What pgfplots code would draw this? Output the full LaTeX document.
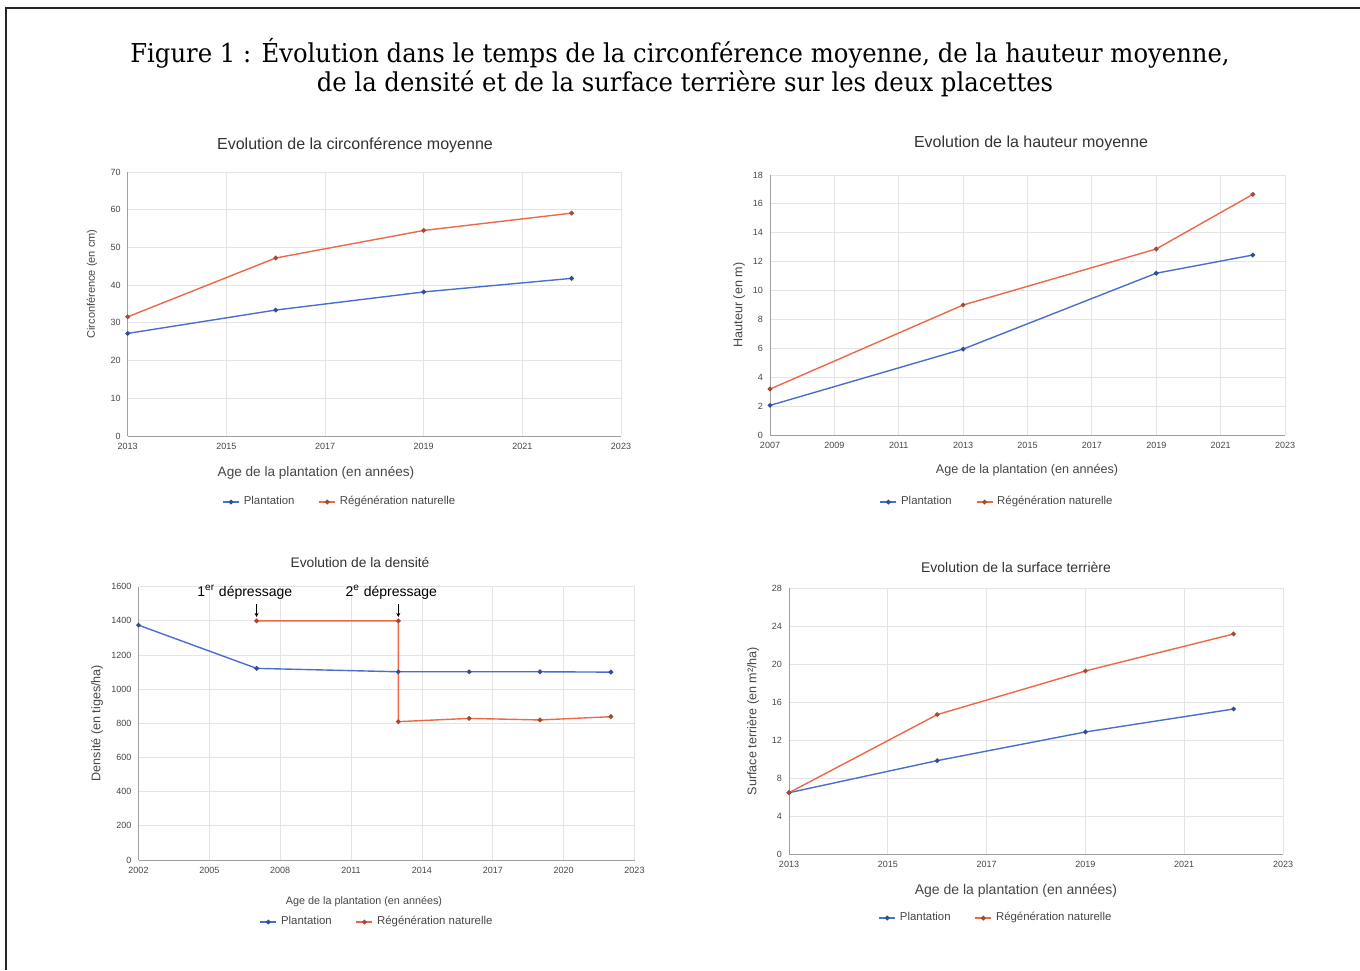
\documentclass[border=0pt]{standalone}
\usepackage{fontspec}
\setmainfont{Liberation Sans}
\newfontfamily\titlefont{DejaVu Serif}[FakeStretch=0.935]
\usepackage{pgfplots}
\pgfplotsset{compat=1.18}
\usetikzlibrary{arrows.meta}

\definecolor{plantblue}{RGB}{74,110,205}
\definecolor{regenred}{RGB}{236,104,72}
\definecolor{gridgray}{RGB}{228,228,228}
\definecolor{axisgray}{RGB}{160,160,160}
\definecolor{labelgray}{RGB}{70,70,70}

\pgfplotsset{
  sheet/.style={
    scale only axis,
    anchor=south west,
    axis lines*=left,
    axis line style={axisgray, line width=0.5pt},
    grid=major,
    major grid style={gridgray, line width=0.4pt},
    major tick length=0pt,
    tick label style={font=\fontsize{4.5}{5}\selectfont, text=labelgray},
    /pgf/number format/assume math mode=true,
    /pgf/number format/1000 sep={},
    ymin=0,
    clip=false,
    legend columns=2,
    legend style={draw=none, fill=none, anchor=center,
      font=\fontsize{5.7}{6.5}\selectfont, text=labelgray,
      /tikz/every even column/.append style={column sep=10pt}},
    legend image code/.code={
      \draw[mark repeat=2, mark phase=2, #1] plot coordinates {(0pt,0pt) (4pt,0pt) (8pt,0pt)};},
  },
  plant/.style={plantblue, line width=0.7pt, mark=*, mark size=0.8pt,
    mark options={fill=plantblue!70!black, draw=plantblue!70!black}},
  regen/.style={regenred, line width=0.7pt, mark=*, mark size=0.8pt,
    mark options={fill=regenred!70!black, draw=regenred!70!black}},
}

\begin{document}
\begin{tikzpicture}
\useasboundingbox (0,0) rectangle (680pt,-485pt);

% cadre
\draw[line width=1pt, black!85] (3pt,-485pt) -- (3pt,-4pt) -- (680pt,-4pt);

% titre general
\node[font=\titlefont\fontsize{13}{15}\selectfont] at (340pt,-26.5pt)
  {Figure 1 : Évolution dans le temps de la circonférence moyenne, de la hauteur moyenne,};
\node[font=\titlefont\fontsize{13}{15}\selectfont] at (342.5pt,-42pt)
  {de la densité et de la surface terrière sur les deux placettes};

% --- circonference
\begin{axis}[sheet, at={(63.85pt,-218pt)}, width=246.65pt, height=132pt,
  xmin=2013, xmax=2023, ymax=70,
  xtick={2013,2015,...,2023}, ytick={0,10,...,70},
  legend style={at={(0.432,-0.25)}}]
\addplot[plant] coordinates {(2013,27.2) (2016,33.4) (2019,38.2) (2022,41.8)};
\addplot[regen] coordinates {(2013,31.6) (2016,47.2) (2019,54.5) (2022,59.1)};
\legend{Plantation, Régénération naturelle}
\end{axis}

% --- hauteur
\begin{axis}[sheet, at={(385pt,-217.5pt)}, width=257.5pt, height=130pt,
  xmin=2007, xmax=2023, ymax=18,
  xtick={2007,2009,...,2023}, ytick={0,2,...,18},
  legend style={at={(0.443,-0.258)}}]
\addplot[plant] coordinates {(2007,2.05) (2013,5.95) (2019,11.2) (2022,12.46)};
\addplot[regen] coordinates {(2007,3.18) (2013,9.0) (2019,12.88) (2022,16.66)};
\legend{Plantation, Régénération naturelle}
\end{axis}

% --- densite
\begin{axis}[sheet, at={(69.25pt,-430pt)}, width=248pt, height=136.65pt,
  xmin=2002, xmax=2023, ymax=1600,
  xtick={2002,2005,...,2023}, ytick={0,200,...,1600},
  legend style={at={(0.483,-0.227)}}]
\addplot[plant] coordinates {(2002,1375) (2007,1122) (2013,1102) (2016,1102) (2019,1102) (2022,1100)};
\addplot[regen] coordinates {(2007,1400) (2013,1400) (2013,810) (2016,829) (2019,820) (2022,839)};
\legend{Plantation, Régénération naturelle}
\node[font=\fontsize{7}{8}\selectfont] at (axis cs:2006.5,1569) {1\textsuperscript{er} dépressage};
\node[font=\fontsize{7}{8}\selectfont] at (axis cs:2012.7,1569) {2\textsuperscript{e} dépressage};
\draw[-{Stealth[length=2pt,width=2pt]}, line width=0.5pt] (axis cs:2007,1499) -- (axis cs:2007,1423);
\draw[-{Stealth[length=2pt,width=2pt]}, line width=0.5pt] (axis cs:2013,1499) -- (axis cs:2013,1423);
\end{axis}

% --- surface terriere
\begin{axis}[sheet, at={(394.5pt,-427pt)}, width=247pt, height=132.85pt,
  xmin=2013, xmax=2023, ymax=28,
  xtick={2013,2015,...,2023}, ytick={0,4,...,28},
  legend style={at={(0.421,-0.241)}}]
\addplot[plant] coordinates {(2013,6.46) (2016,9.84) (2019,12.86) (2022,15.28)};
\addplot[regen] coordinates {(2013,6.46) (2016,14.69) (2019,19.29) (2022,23.19)};
\legend{Plantation, Régénération naturelle}
\end{axis}

% titres des graphiques
\begin{scope}[every node/.style={text=black!80}]
\node[font=\fontsize{8}{9}\selectfont] at (177.5pt,-72.5pt) {Evolution de la circonférence moyenne};
\node[font=\fontsize{8}{9}\selectfont] at (515.5pt,-71.5pt) {Evolution de la hauteur moyenne};
\node[font=\fontsize{6.9}{8}\selectfont] at (180pt,-281pt) {Evolution de la densité};
\node[font=\fontsize{7}{8}\selectfont] at (508pt,-283.5pt) {Evolution de la surface terrière};
\end{scope}

% titres des axes
\begin{scope}[every node/.style={font=\fontsize{6.3}{7}\selectfont, text=labelgray}]
\node[font=\fontsize{6.8}{7.5}\selectfont] at (158pt,-236.5pt) {Age de la plantation (en années)};
\node at (513.5pt,-235pt) {Age de la plantation (en années)};
\node[font=\fontsize{5.4}{6}\selectfont] at (182pt,-451pt) {Age de la plantation (en années)};
\node[font=\fontsize{7}{8}\selectfont] at (508pt,-445.5pt) {Age de la plantation (en années)};
\node[rotate=90, font=\fontsize{5.5}{6}\selectfont] at (46pt,-142pt) {Circonférence (en cm)};
\node[rotate=90] at (369.5pt,-152.5pt) {Hauteur (en m)};
\node[rotate=90] at (48.5pt,-361.5pt) {Densité (en tiges/ha)};
\node[rotate=90] at (376.5pt,-360.5pt) {Surface terrière (en m²/ha)};
\end{scope}
\end{tikzpicture}
\end{document}
